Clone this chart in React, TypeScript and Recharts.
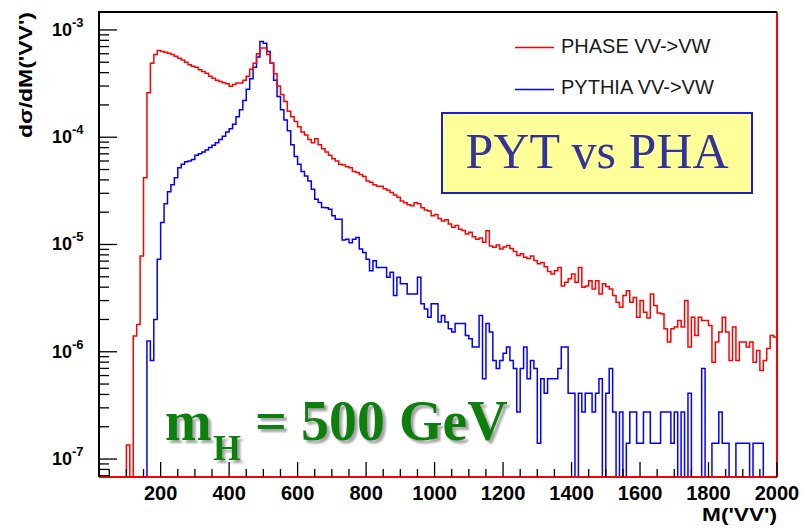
import { Line, LineChart, ReferenceLine, XAxis, YAxis } from 'recharts';

// histogram binning: 198 bins of 10 GeV starting at 20 GeV
const BIN_START = 20;
const BIN_WIDTH = 10;

// PHASE VV->VW, one value per bin (0 = empty bin)
const phaseValues = [
  0, 0, 0, 0, 0, 0, 0, 0,
  1.35e-7, 0, 1.4e-6, 1.8e-6, 7.8e-6, 4.2e-5, 2.6e-4, 4.9e-4, 5.9e-4, 6.45e-4,
  6.3e-4, 6.2e-4, 6.05e-4, 5.9e-4, 5.7e-4, 5.45e-4, 5.25e-4, 5.0e-4, 4.75e-4, 4.6e-4,
  4.5e-4, 4.25e-4, 4.1e-4, 3.95e-4, 3.7e-4, 3.55e-4, 3.4e-4, 3.3e-4, 3.22e-4, 3.15e-4,
  2.98e-4, 3.1e-4, 3.2e-4, 3.2e-4, 3.4e-4, 3.7e-4, 4.3e-4, 4.9e-4, 6.0e-4, 6.8e-4,
  6.8e-4, 5.9e-4, 4.9e-4, 3.9e-4, 3.0e-4, 2.5e-4, 2.15e-4, 1.75e-4, 1.55e-4, 1.4e-4,
  1.25e-4, 1.12e-4, 1.05e-4, 9.5e-5, 8.9e-5, 9.7e-5, 8.5e-5, 7.8e-5, 7.3e-5, 6.8e-5,
  6.3e-5, 6.0e-5, 5.6e-5, 5.5e-5, 5.3e-5, 5.2e-5, 4.8e-5, 4.7e-5, 4.5e-5, 4.3e-5,
  3.9e-5, 3.8e-5, 3.6e-5, 3.5e-5, 3.5e-5, 3.3e-5, 3.2e-5, 3.05e-5, 2.9e-5, 2.75e-5,
  2.55e-5, 2.45e-5, 2.35e-5, 2.3e-5, 2.45e-5, 2.4e-5, 2.2e-5, 2.1e-5, 2.05e-5, 1.85e-5,
  1.9e-5, 1.75e-5, 1.66e-5, 1.7e-5, 1.55e-5, 1.45e-5, 1.5e-5, 1.39e-5, 1.35e-5, 1.25e-5,
  1.3e-5, 1.18e-5, 1.12e-5, 1.15e-5, 1.05e-5, 1.34e-5, 9.7e-6, 9.4e-6, 9.9e-6, 9.1e-6,
  9.5e-6, 9.8e-6, 9.2e-6, 8.6e-6, 7.9e-6, 8.2e-6, 7.6e-6, 7.4e-6, 7.8e-6, 7.1e-6,
  6.6e-6, 6.8e-6, 6.2e-6, 5.6e-6, 5.3e-6, 5.7e-6, 6.1e-6, 4.1e-6, 4.45e-6, 4.8e-6,
  5.3e-6, 4.45e-6, 6.1e-6, 4.0e-6, 4.1e-6, 4.6e-6, 3.85e-6, 4.6e-6, 3.45e-6, 4.3e-6,
  4.05e-6, 3.85e-6, 3.35e-6, 2.9e-6, 2.6e-6, 3.35e-6, 3.7e-6, 2.9e-6, 3.2e-6, 2.1e-6,
  3.0e-6, 2.34e-6, 2.06e-6, 3.45e-6, 2.7e-6, 2.3e-6, 2.26e-6, 1.64e-6, 1.23e-6, 1.64e-6,
  1.7e-6, 1.96e-6, 1.7e-6, 3.0e-6, 1.11e-6, 2.1e-6, 1.42e-6, 2.1e-6, 1.96e-6, 1.96e-6,
  1.76e-6, 8.0e-7, 1.23e-6, 1.53e-6, 2.1e-6, 1.53e-6, 8.3e-7, 1.7e-6, 8.3e-7, 1.23e-6,
  1.23e-6, 1.11e-6, 1.23e-6, 8.0e-7, 1.03e-6, 6.7e-7, 8.3e-7, 1.07e-6, 1.42e-6, 1.37e-6,
];

// PYTHIA VV->VW, one value per bin (0 = empty bin)
const pythiaValues = [
  0, 0, 0, 0, 0, 0, 0, 0,
  0, 0, 0, 0, 0, 0, 1.26e-6, 8.3e-7, 2.0e-6, 7.3e-6,
  1.6e-5, 2.4e-5, 3.1e-5, 3.6e-5, 4.2e-5, 5.2e-5, 5.6e-5, 5.9e-5, 6.0e-5, 6.2e-5,
  6.8e-5, 7.0e-5, 7.3e-5, 7.6e-5, 8.0e-5, 8.4e-5, 8.9e-5, 9.5e-5, 1.02e-4, 1.12e-4,
  1.2e-4, 1.32e-4, 1.55e-4, 1.8e-4, 2.2e-4, 2.8e-4, 3.5e-4, 4.5e-4, 5.6e-4, 7.8e-4,
  7.5e-4, 6.3e-4, 4.9e-4, 3.4e-4, 2.4e-4, 1.8e-4, 1.45e-4, 1.15e-4, 8.5e-5, 6.6e-5,
  5.6e-5, 4.8e-5, 4.35e-5, 3.9e-5, 3.27e-5, 2.64e-5, 2.46e-5, 2.21e-5, 2.2e-5, 2.13e-5,
  1.85e-5, 1.72e-5, 1.72e-5, 1.1e-5, 1.12e-5, 1.04e-5, 1.12e-5, 1.16e-5, 9.1e-6, 8.4e-6,
  7.3e-6, 5.7e-6, 7.06e-6, 6.1e-6, 6.1e-6, 6.1e-6, 4.95e-6, 5.5e-6, 3.34e-6, 4.95e-6,
  4.3e-6, 4.3e-6, 3.46e-6, 3.46e-6, 3.46e-6, 4.95e-6, 2.8e-6, 2.5e-6, 2.1e-6, 2.8e-6,
  2.8e-6, 1.89e-6, 2.18e-6, 1.89e-6, 1.64e-6, 1.53e-6, 1.83e-6, 1.83e-6, 1.83e-6, 1.42e-6,
  1.32e-6, 1.11e-6, 1.11e-6, 2.18e-6, 5.6e-7, 1.83e-6, 1.53e-6, 8.3e-7, 7.0e-7, 8.3e-7,
  9.7e-7, 1.11e-6, 8.3e-7, 7.0e-7, 2.75e-7, 7.0e-7, 1.11e-6, 5.6e-7, 8.3e-7, 7.0e-7,
  1.4e-7, 5.6e-7, 4.1e-7, 5.6e-7, 5.6e-7, 5.6e-7, 7.0e-7, 1.11e-6, 1.11e-6, 4.1e-7,
  4.1e-7, 0, 4.1e-7, 2.75e-7, 4.1e-7, 4.1e-7, 2.75e-7, 4.1e-7, 5.6e-7, 0,
  4.1e-7, 7.0e-7, 2.75e-7, 0, 2.75e-7, 0, 1.4e-7, 2.75e-7, 2.75e-7, 1.4e-7,
  1.4e-7, 2.75e-7, 2.75e-7, 1.4e-7, 1.4e-7, 1.4e-7, 2.75e-7, 2.75e-7, 2.75e-7, 1.4e-7,
  2.75e-7, 0, 2.75e-7, 0, 4.1e-7, 0, 0, 0, 7.0e-7, 0,
  0, 1.4e-7, 1.4e-7, 2.75e-7, 1.4e-7, 1.4e-7, 0, 0, 1.4e-7, 1.4e-7,
  1.4e-7, 1.4e-7, 0, 1.4e-7, 1.4e-7, 1.4e-7, 0, 0, 0, 0,
];

const xMajorTicks = [200, 400, 600, 800, 1000, 1200, 1400, 1600, 1800, 2000];
const yDecades = [1e-7, 1e-6, 1e-5, 1e-4, 1e-3];

const X_MIN = 20;
const X_MAX = 2000;
const Y_MIN = 6.8e-8;
const Y_MAX = 1.47e-3;
// empty bins are pushed below the frame (clipped), like ROOT does on a log axis
const EMPTY = 1e-9;

// plot frame in page pixels (chart margins + axis sizes below)
const FRAME = { left: 99, top: 12, right: 777, bottom: 477 };

const rows = phaseValues.map((v, i) => ({
  m: BIN_START + i * BIN_WIDTH,
  phase: v > 0 ? v : EMPTY,
  pythia: pythiaValues[i] > 0 ? pythiaValues[i] : EMPTY,
}));
rows.push({ m: X_MAX, phase: EMPTY, pythia: EMPTY });

const xTicks: number[] = [];
for (let t = 50; t <= X_MAX; t += 50) xTicks.push(t);

const yTicks: number[] = [7e-8, 8e-8, 9e-8];
yDecades.forEach((d) => {
  for (let k = 1; k <= 9; k++) {
    const t = d * k;
    if (t <= Y_MAX) yTicks.push(t);
  }
});

const SANS = '"Liberation Sans", Arial, Helvetica, sans-serif';
const SERIF = '"Liberation Serif", "Times New Roman", serif';

function XTick({ x, y, payload }: any) {
  const v = payload.value;
  const major = xMajorTicks.includes(v);
  return (
    <g>
      <line x1={x} x2={x} y1={y} y2={y - (major ? 15 : 8)} stroke="#000" strokeWidth={1.3} />
      {major && (
        <text x={x} y={y + 23} textAnchor="middle" fontSize={20} fontWeight="bold" fontFamily={SANS} fill="#000">
          {v}
        </text>
      )}
    </g>
  );
}

function YTick({ x, y, payload }: any) {
  const v = payload.value;
  const lg = Math.log10(v);
  const major = Math.abs(lg - Math.round(lg)) < 1e-6;
  return (
    <g>
      <line x1={x} x2={x + (major ? 18 : 10)} y1={y} y2={y} stroke="#000" strokeWidth={1.3} />
      {major && (
        <text x={x - 47} y={y + 6} fontSize={18} fontWeight="bold" fontFamily={SANS} fill="#000">
          10
          <tspan dy={-9} fontSize={13}>
            {Math.round(lg)}
          </tspan>
        </text>
      )}
    </g>
  );
}

export default function App() {
  return (
    <div style={{ position: 'absolute', left: 0, top: 0, width: 805, height: 528, background: '#fff' }}>
      <LineChart
        width={805}
        height={528}
        data={rows}
        margin={{ top: FRAME.top, right: 805 - FRAME.right, bottom: 0, left: 0 }}
      >
        <XAxis
          type="number"
          dataKey="m"
          domain={[X_MIN, X_MAX]}
          allowDataOverflow
          ticks={xTicks}
          interval={0}
          tick={<XTick />}
          tickSize={0}
          tickMargin={0}
          tickLine={false}
          axisLine={false}
          height={528 - FRAME.bottom}
        />
        <YAxis
          scale="log"
          domain={[Y_MIN, Y_MAX]}
          allowDataOverflow
          ticks={yTicks}
          interval={0}
          tick={<YTick />}
          tickSize={0}
          tickMargin={0}
          tickLine={false}
          axisLine={false}
          width={FRAME.left}
        />
        <Line
          type="stepAfter"
          dataKey="pythia"
          stroke="#0000ff"
          strokeWidth={1.5}
          dot={false}
          isAnimationActive={false}
        />
        <Line
          type="stepAfter"
          dataKey="phase"
          stroke="#ff0000"
          strokeWidth={1.5}
          dot={false}
          isAnimationActive={false}
        />
        {/* red histogram outline running along the bottom and right of the frame */}
        <ReferenceLine
          segment={[
            { x: X_MIN, y: Y_MIN },
            { x: X_MAX, y: Y_MIN },
          ]}
          stroke="#ff0000"
          strokeWidth={2}
        />
        <ReferenceLine
          segment={[
            { x: X_MAX, y: Y_MIN },
            { x: X_MAX, y: Y_MAX },
          ]}
          stroke="#ff0000"
          strokeWidth={2}
        />
      </LineChart>

      <svg width={805} height={528} style={{ position: 'absolute', left: 0, top: 0, pointerEvents: 'none' }}>
        <defs>
          <filter id="softShadow" x="-10%" y="-10%" width="130%" height="140%">
            <feDropShadow dx={3} dy={3} stdDeviation={0.8} floodColor="#9a9a9a" floodOpacity={0.9} />
          </filter>
        </defs>

        {/* black frame, top and left */}
        <path
          d={`M${FRAME.left},${FRAME.bottom} V${FRAME.top} H${FRAME.right}`}
          fill="none"
          stroke="#000"
          strokeWidth={2}
        />

        {/* axis titles */}
        <text
          transform="translate(32,12) rotate(-90)"
          textAnchor="end"
          fontSize={18}
          fontWeight="bold"
          fontFamily={SANS}
          textLength={126}
          lengthAdjust="spacingAndGlyphs"
        >
          dσ/dM('VV')
        </text>
        <text
          x={702}
          y={521}
          fontSize={18}
          fontWeight="bold"
          fontFamily={SANS}
          textLength={75}
          lengthAdjust="spacingAndGlyphs"
        >
          M('VV')
        </text>

        {/* legend */}
        <line x1={515} x2={554} y1={47.5} y2={47.5} stroke="#ff0000" strokeWidth={1.5} />
        <text x={561} y={53} fontSize={20} fontFamily={SANS} fill="#1a1a1a">
          PHASE VV-&gt;VW
        </text>
        <line x1={515} x2={554} y1={89.5} y2={89.5} stroke="#0000ff" strokeWidth={1.5} />
        <text x={561} y={94} fontSize={20} fontFamily={SANS} fill="#1a1a1a">
          PYTHIA VV-&gt;VW
        </text>

        {/* comparison label */}
        <rect x={442} y={113} width={310} height={80} fill="#ffff99" stroke="#1c1cc8" strokeWidth={2} />
        <text x={597} y={168} textAnchor="middle" fontSize={50} fontFamily={SERIF} fill="#333399">
          PYT vs PHA
        </text>

        {/* Higgs mass label */}
        <g fontFamily={SERIF} fontWeight="bold" fill="#117f11" filter="url(#softShadow)">
          <text x={165} y={440} fontSize={56}>
            m
          </text>
          <text x={213} y={460} fontSize={36}>
            H
          </text>
          <text x={255} y={440} fontSize={56}>
            = 500 GeV
          </text>
        </g>
      </svg>
    </div>
  );
}
